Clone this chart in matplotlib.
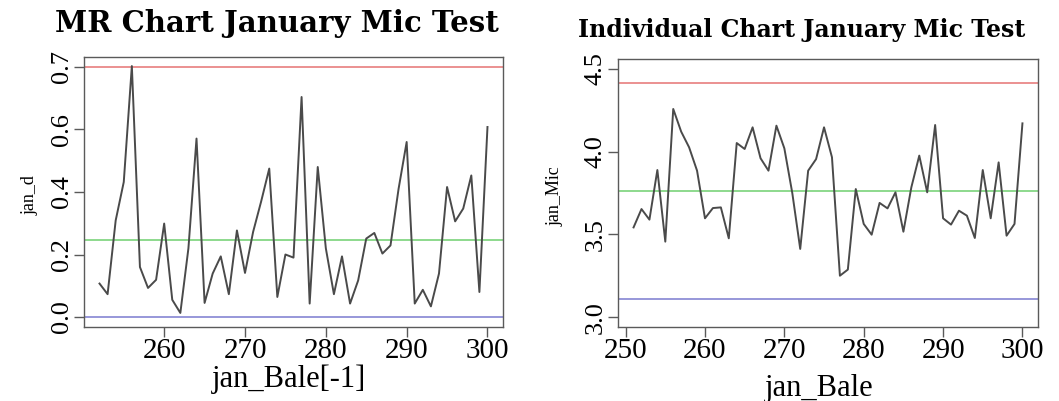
import numpy as np
import matplotlib
matplotlib.use("Agg")
import matplotlib.pyplot as plt

# moving range chart (jan_d against jan_Bale[-1])
bale_mr = list(range(252, 301))
jan_d = [0.107, 0.073, 0.309, 0.432, 0.803, 0.160, 0.093, 0.119, 0.299, 0.055,
         0.013, 0.220, 0.571, 0.045, 0.139, 0.194, 0.073, 0.277, 0.141, 0.272,
         0.370, 0.475, 0.064, 0.200, 0.190, 0.704, 0.043, 0.480, 0.220, 0.073,
         0.194, 0.043, 0.117, 0.251, 0.269, 0.203, 0.229, 0.410, 0.560, 0.043,
         0.087, 0.034, 0.139, 0.416, 0.306, 0.347, 0.453, 0.080, 0.608]
mr_limits = {"ucl": 0.80, "cl": 0.245, "lcl": 0.0}
mr_yticks = [0.0, 0.2, 0.4, 0.6, 0.8]
mr_yticklabels = ["0.0", "0.2", "0.4", "0.6", "0.7"]
mr_xticks = [260, 270, 280, 290, 300]

# individual chart (jan_Mic against jan_Bale)
bale = list(range(251, 301))
jan_mic = [3.542, 3.653, 3.589, 3.889, 3.456, 4.258, 4.121, 4.026, 3.885, 3.597,
           3.659, 3.663, 3.476, 4.052, 4.016, 4.147, 3.960, 3.885, 4.157, 4.020,
           3.750, 3.412, 3.885, 3.955, 4.147, 3.966, 3.250, 3.287, 3.774, 3.563,
           3.498, 3.690, 3.657, 3.754, 3.516, 3.784, 3.976, 3.754, 4.161, 3.597,
           3.559, 3.643, 3.613, 3.478, 3.889, 3.597, 3.935, 3.492, 3.563, 4.171]
ind_limits = {"ucl": 4.415, "cl": 3.762, "lcl": 3.112}
ind_yticks = [3.0, 3.5, 4.0, 4.5]
ind_xticks = [250, 260, 270, 280, 290, 300]

W, H = 1059, 401
fig = plt.figure(figsize=(W / 100, H / 100), dpi=100)
serif = ["Liberation Serif", "DejaVu Serif"]
edge = "#5a5a5a"


def px_axes(l, t, r, b):
    return fig.add_axes([l / W, 1 - b / H, (r - l) / W, (b - t) / H])


def style(ax, xticks, yticks, yticklabels):
    for s in ax.spines.values():
        s.set_color(edge)
        s.set_linewidth(1.0)
    ax.set_xticks(xticks)
    ax.set_xticklabels([str(t) for t in xticks], family=serif, fontsize=21)
    ax.set_yticks(yticks)
    ax.set_yticklabels(yticklabels, family=serif, fontsize=19,
                       rotation=90, va="center")
    ax.tick_params(direction="out", length=7, width=1.0, color=edge, pad=1)


def draw(ax, x, y, lim):
    ax.axhline(lim["ucl"], color="#e57373", lw=1.1)
    ax.axhline(lim["cl"], color="#6fd06f", lw=1.1)
    ax.axhline(lim["lcl"], color="#7b7bd0", lw=1.1)
    ax.plot(x, y, color="#4a4a4a", lw=1.4)


# left: MR chart
ax1 = px_axes(84, 57, 503, 327)
draw(ax1, bale_mr, jan_d, mr_limits)
ax1.set_xlim(250.08, 301.92)
ax1.set_ylim(-0.032, 0.832)
style(ax1, mr_xticks, mr_yticks, mr_yticklabels)
ax1.set_xlabel("jan_Bale[-1]", family=serif, fontsize=22, va="center")
ax1.xaxis.set_label_coords(0.49, -0.195)
ax1.set_ylabel("jan_d", family=serif, fontsize=13, va="center")
ax1.yaxis.set_label_coords(-0.128, 0.49)

# right: individual chart
ax2 = px_axes(618, 59, 1038, 327)
draw(ax2, bale, jan_mic, ind_limits)
ax2.set_xlim(249.04, 301.96)
ax2.set_ylim(2.94, 4.56)
style(ax2, ind_xticks, ind_yticks, ["3.0", "3.5", "4.0", "4.5"])
ax2.set_xlabel("jan_Bale", family=serif, fontsize=22, va="center")
ax2.xaxis.set_label_coords(0.48, -0.228)
ax2.set_ylabel("jan_Mic", family=serif, fontsize=13, va="center")
ax2.yaxis.set_label_coords(-0.15, 0.49)

fig.text(277 / W, 1 - 32 / H, "MR Chart January Mic Test", ha="center",
         va="baseline", family="DejaVu Serif", fontweight="bold", fontsize=21)
fig.text(802 / W, 1 - 37 / H, "Individual Chart January Mic Test", ha="center",
         va="baseline", family="DejaVu Serif", fontweight="bold", fontsize=17)

fig.savefig("out.png", dpi=100)
